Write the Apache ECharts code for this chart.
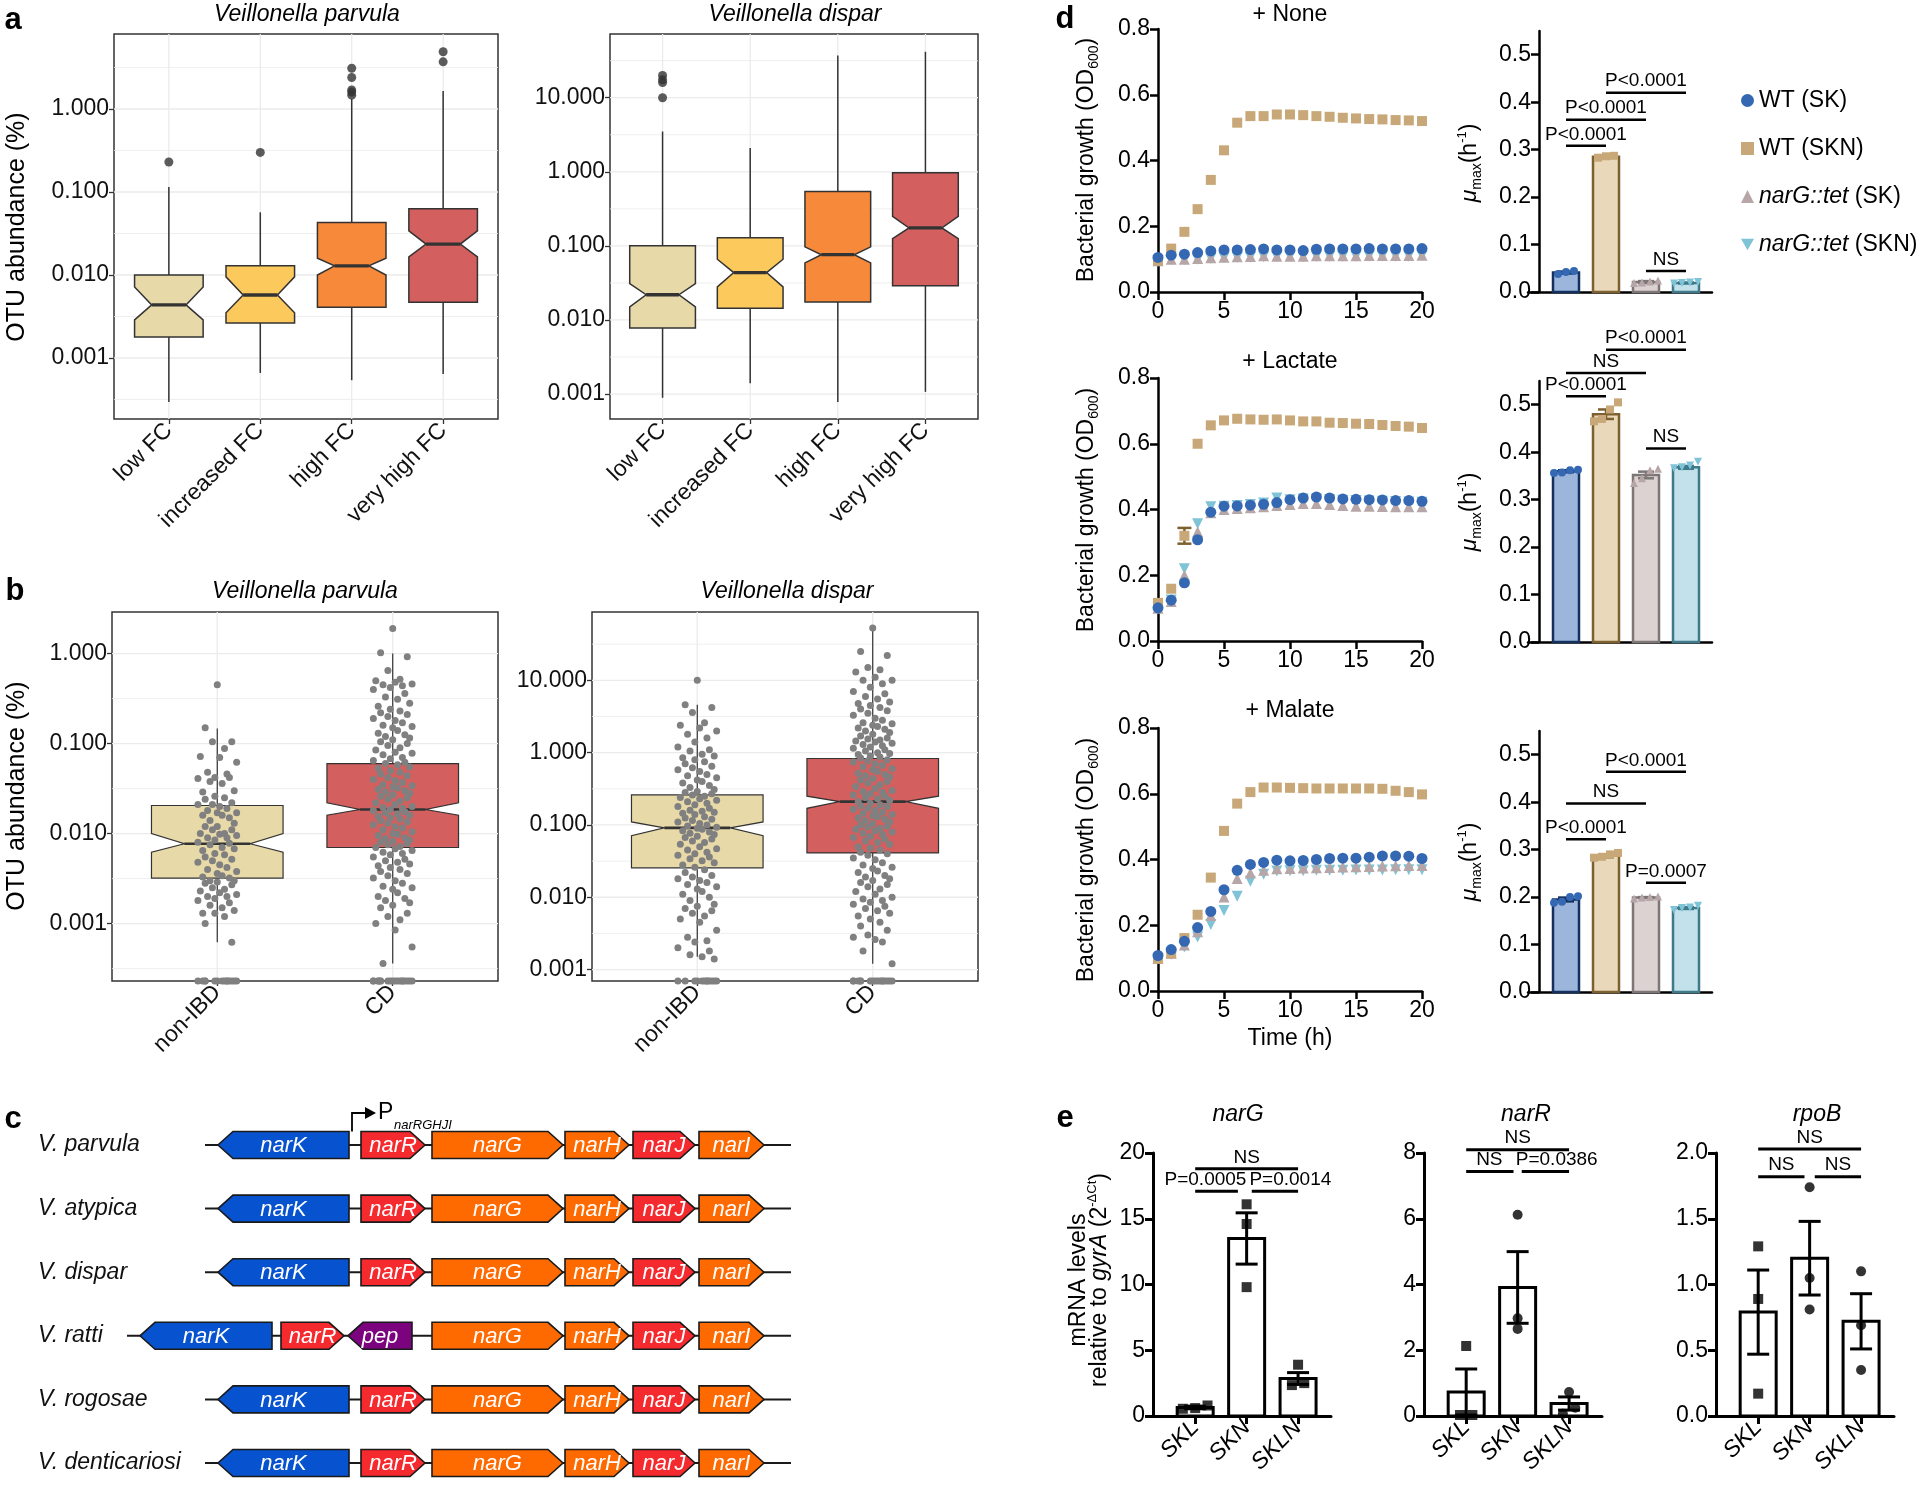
<!DOCTYPE html>
<html>
<head>
<meta charset="utf-8">
<title>Veillonella nar figure</title>
<script src="https://cdn.jsdelivr.net/npm/echarts@6.0.0/dist/echarts.min.js"></script>
<style>
  html, body { margin: 0; padding: 0; background: #fff; }
  #chart { width: 1920px; height: 1486px; }
</style>
</head>
<body>
<div id="chart"></div>
<script>
const FONT = '"Liberation Sans", Arial, Helvetica, sans-serif';

// ---------- a: OTU abundance (%) per FC group ----------
// box = [whiskerLow, q1, notchLow, median, notchHigh, q3, whiskerHigh]
const fcGroups = ['low FC', 'increased FC', 'high FC', 'very high FC'];
const fcColors = ['#E8D9A9', '#FCC95D', '#F7893B', '#D35F5F'];
const parvulaFcBoxes = [
  [0.000295, 0.00179, 0.00288, 0.00436, 0.00716, 0.0100, 0.115],
  [0.00066, 0.00264, 0.0035, 0.00574, 0.0095, 0.0129, 0.057],
  [0.00054, 0.0041, 0.0100, 0.0129, 0.0159, 0.0428, 1.32],
  [0.00064, 0.0047, 0.0165, 0.0236, 0.034, 0.063, 1.65]
];
const parvulaFcOutliers = [[1, 0.23], [2, 0.30], [3, 3.1], [3, 2.4], [3, 1.7], [3, 1.6], [3, 1.47], [4, 4.9], [4, 3.7]];
const disparFcBoxes = [
  [0.00089, 0.0078, 0.015, 0.0219, 0.031, 0.100, 3.5],
  [0.0014, 0.0144, 0.028, 0.0436, 0.066, 0.129, 2.1],
  [0.00078, 0.0175, 0.059, 0.076, 0.097, 0.54, 37],
  [0.00107, 0.029, 0.125, 0.175, 0.25, 0.97, 41.7]
];
const disparFcOutliers = [[1, 20], [1, 17.5], [1, 16], [1, 10]];

// ---------- b: non-IBD vs CD ----------
const ibdGroups = ['non-IBD', 'CD'];
const ibdColors = ['#E8D9A9', '#D35F5F'];
const parvulaIbdBoxes = [
  [0.00062, 0.0032, 0.0062, 0.0077, 0.0100, 0.0205, 0.147],
  [0.00036, 0.0070, 0.016, 0.0185, 0.022, 0.060, 1.0]
];
const disparIbdBoxes = [
  [0.0015, 0.0255, 0.071, 0.091, 0.11, 0.26, 4.6],
  [0.0012, 0.041, 0.17, 0.21, 0.25, 0.83, 53]
];
const parvulaNonIbd = [0.45, 0.15, 0.105, 0.105, 0.088, 0.072, 0.07, 0.062, 0.048, 0.046, 0.042, 0.041, 0.042, 0.038, 0.036,
  0.03, 0.029, 0.026, 0.025, 0.024, 0.022, 0.021, 0.021, 0.02, 0.019, 0.018, 0.017, 0.017, 0.016, 0.016, 0.015, 0.014, 0.013,
  0.012, 0.012, 0.011, 0.011, 0.010, 0.010, 0.0098, 0.0095, 0.009, 0.009, 0.0085, 0.008, 0.0078, 0.0075, 0.007, 0.0068, 0.0065,
  0.006, 0.0058, 0.0055, 0.0052, 0.005, 0.0048, 0.0045, 0.0042, 0.004, 0.0038, 0.0036, 0.0034, 0.0033, 0.0032, 0.003, 0.003,
  0.0029, 0.0028, 0.0027, 0.0025, 0.0024, 0.0023, 0.0022, 0.0021, 0.002, 0.002, 0.0019, 0.0018, 0.0017, 0.0016, 0.0015,
  0.0014, 0.0013, 0.0013, 0.0012, 0.0010, 0.00062];
const parvulaCd = [1.9, 1.02, 0.92, 0.65, 0.52, 0.5, 0.48, 0.46, 0.45, 0.44, 0.42, 0.4, 0.36, 0.33, 0.31,
  0.28, 0.26, 0.24, 0.23, 0.22, 0.21, 0.2, 0.19, 0.18, 0.17, 0.16, 0.155, 0.15, 0.14, 0.13, 0.125, 0.12, 0.115, 0.11, 0.105, 0.1,
  0.095, 0.09, 0.085, 0.08, 0.078, 0.075, 0.07, 0.068, 0.065, 0.062, 0.06, 0.058, 0.055, 0.053, 0.05, 0.048, 0.046, 0.044,
  0.042, 0.04, 0.039, 0.037, 0.035, 0.034, 0.033, 0.032, 0.031, 0.03,
  0.029, 0.028, 0.027, 0.026, 0.025, 0.024, 0.023, 0.022, 0.021, 0.02, 0.0195, 0.019, 0.0185, 0.018, 0.0175, 0.017, 0.0165,
  0.016, 0.0155, 0.015, 0.0145, 0.014, 0.0135, 0.013, 0.0125, 0.012, 0.0115, 0.011, 0.0105, 0.01,
  0.0098, 0.0095, 0.009, 0.0088, 0.0085, 0.0082, 0.008, 0.0078, 0.0075, 0.0072, 0.007, 0.0068, 0.0065, 0.0062, 0.006, 0.0058,
  0.0055, 0.0052, 0.005, 0.0048, 0.0046, 0.0044, 0.0042, 0.004, 0.0038, 0.0036, 0.0034, 0.0032, 0.003,
  0.0028, 0.0026, 0.0025, 0.0024, 0.0022, 0.002, 0.0019, 0.0018, 0.0017, 0.0016, 0.0015, 0.0013, 0.0012, 0.0011, 0.001,
  0.00085, 0.00055, 0.00036];
const disparNonIbd = [10, 4.6, 4.2, 3.6, 2.6, 2.4, 2.2, 2.0, 1.8, 1.6, 1.4, 1.2, 1.1, 1.05,
  0.95, 0.9, 0.85, 0.8, 0.75, 0.7, 0.65, 0.62, 0.58, 0.55, 0.5, 0.48, 0.45, 0.42, 0.4, 0.38, 0.35, 0.33, 0.31,
  0.29, 0.28, 0.27, 0.26, 0.25, 0.24, 0.23, 0.22, 0.21, 0.2, 0.19, 0.18, 0.17, 0.16, 0.155, 0.15, 0.145, 0.14, 0.13, 0.125,
  0.12, 0.115, 0.11, 0.105, 0.1,
  0.097, 0.093, 0.09, 0.087, 0.083, 0.08, 0.077, 0.074, 0.07, 0.067, 0.064, 0.06, 0.057, 0.054, 0.05, 0.047, 0.045, 0.042,
  0.04, 0.038, 0.036, 0.034, 0.032, 0.03,
  0.028, 0.026, 0.024, 0.022, 0.02, 0.019, 0.018, 0.017, 0.016, 0.015, 0.014, 0.013, 0.012, 0.011, 0.01,
  0.009, 0.008, 0.0075, 0.007, 0.0065, 0.006, 0.0055, 0.005, 0.0045, 0.0035, 0.0028, 0.0025, 0.0024, 0.002, 0.0018, 0.0016,
  0.0015, 0.0014];
const disparCd = [53, 25, 22, 15, 14, 13, 11, 10, 10, 9, 8, 7, 6.5, 6, 5.5,
  5.0, 4.8, 4.5, 4.2, 4.0, 3.8, 3.5, 3.3, 3.0, 2.8, 2.6, 2.5, 2.4, 2.3, 2.2, 2.1, 2.0, 1.9, 1.8, 1.7, 1.6, 1.55, 1.5, 1.45,
  1.4, 1.35, 1.3, 1.25, 1.2, 1.15, 1.1, 1.05, 1.0,
  0.97, 0.94, 0.9, 0.87, 0.84, 0.8, 0.77, 0.74, 0.7, 0.67, 0.64, 0.6, 0.58, 0.55, 0.52, 0.5, 0.48, 0.46, 0.44, 0.42, 0.4,
  0.38, 0.36, 0.34, 0.32, 0.3,
  0.29, 0.28, 0.27, 0.26, 0.25, 0.24, 0.23, 0.22, 0.21, 0.2, 0.19, 0.185, 0.18, 0.17, 0.165, 0.16, 0.15, 0.145, 0.14, 0.135,
  0.13, 0.125, 0.12, 0.115, 0.11, 0.105, 0.1,
  0.097, 0.094, 0.09, 0.087, 0.083, 0.08, 0.077, 0.074, 0.07, 0.067, 0.064, 0.06, 0.057, 0.054, 0.05, 0.048, 0.045, 0.042,
  0.04, 0.038, 0.035, 0.033, 0.03,
  0.028, 0.026, 0.025, 0.023, 0.022, 0.02, 0.019, 0.018, 0.017, 0.016, 0.015, 0.014, 0.013, 0.012, 0.011, 0.01,
  0.0095, 0.009, 0.0085, 0.008, 0.0075, 0.007, 0.0065, 0.006, 0.0055, 0.005, 0.0045, 0.004, 0.0035, 0.003, 0.0028, 0.0026,
  0.0024, 0.0018, 0.0012];
const parvulaZeroCounts = [14, 18];
const disparZeroCounts = [12, 16];

// ---------- c: nar loci ----------
const species = ['V. parvula', 'V. atypica', 'V. dispar', 'V. ratti', 'V. rogosae', 'V. denticariosi'];
const locusSpan = [[78, 664], [78, 664], [78, 664], [0, 664], [78, 664], [78, 664]];
// [gene, start, end, strand]
const standardLocus = [['narK', 91, 222, -1], ['narR', 234, 298, 1], ['narG', 305, 436, 1], ['narH', 438, 502, 1], ['narJ', 506, 568, 1], ['narI', 572, 637, 1]];
const rattiLocus = [['narK', 13, 145, -1], ['narR', 154, 217, 1], ['pep', 221, 285, -1], ['narG', 305, 436, 1], ['narH', 438, 502, 1], ['narJ', 506, 568, 1], ['narI', 572, 637, 1]];
const loci = [standardLocus, standardLocus, standardLocus, rattiLocus, standardLocus, standardLocus];
const geneColors = { narK: '#0753CF', narR: '#F52A2E', narG: '#FF6A00', narH: '#FF6A00', narJ: '#F52A2E', narI: '#FF6A00', pep: '#7B037E' };
const promoterPos = 225;

// ---------- d: growth and mu max ----------
const genotypes = ['WT (SK)', 'WT (SKN)', 'narG::tet (SK)', 'narG::tet (SKN)'];
const hours = [0, 1, 2, 3, 4, 5, 6, 7, 8, 9, 10, 11, 12, 13, 14, 15, 16, 17, 18, 19, 20];
const noneGrowth = [
  [0.105, 0.112, 0.115, 0.12, 0.125, 0.128, 0.128, 0.129, 0.131, 0.128, 0.128, 0.126, 0.13, 0.131, 0.131, 0.131, 0.132, 0.131, 0.131, 0.131, 0.132],
  [0.096, 0.132, 0.183, 0.252, 0.341, 0.431, 0.515, 0.535, 0.535, 0.54, 0.54, 0.538, 0.535, 0.533, 0.53, 0.528, 0.526, 0.525, 0.523, 0.522, 0.52],
  [0.095, 0.1, 0.1, 0.102, 0.104, 0.106, 0.107, 0.108, 0.11, 0.109, 0.109, 0.109, 0.11, 0.11, 0.11, 0.11, 0.111, 0.111, 0.111, 0.111, 0.112],
  [0.094, 0.098, 0.099, 0.1, 0.102, 0.104, 0.105, 0.106, 0.107, 0.107, 0.107, 0.107, 0.108, 0.108, 0.108, 0.108, 0.109, 0.109, 0.109, 0.109, 0.11]
];
const lactateGrowth = [
  [0.101, 0.124, 0.177, 0.308, 0.392, 0.41, 0.411, 0.413, 0.416, 0.421, 0.43, 0.435, 0.438, 0.435, 0.432, 0.431, 0.43, 0.429, 0.427, 0.427, 0.425],
  [0.116, 0.159, 0.32, 0.6, 0.656, 0.671, 0.676, 0.674, 0.673, 0.674, 0.671, 0.668, 0.668, 0.664, 0.663, 0.661, 0.66, 0.657, 0.654, 0.652, 0.648],
  [0.1, 0.12, 0.2, 0.332, 0.39, 0.4, 0.403, 0.405, 0.408, 0.412, 0.415, 0.418, 0.418, 0.415, 0.412, 0.41, 0.41, 0.409, 0.408, 0.408, 0.408],
  [0.102, 0.125, 0.22, 0.357, 0.408, 0.41, 0.412, 0.415, 0.42, 0.435, 0.43, 0.432, 0.432, 0.43, 0.428, 0.427, 0.426, 0.425, 0.424, 0.423, 0.422]
];
const lactateSknErr = [0, 0, 0.024, 0, 0, 0, 0, 0, 0, 0, 0, 0, 0, 0, 0, 0, 0, 0, 0, 0, 0];
const malateGrowth = [
  [0.108, 0.126, 0.151, 0.193, 0.242, 0.308, 0.367, 0.385, 0.391, 0.398, 0.396, 0.397, 0.4, 0.403, 0.404, 0.404, 0.407, 0.411, 0.411, 0.41, 0.403],
  [0.098, 0.114, 0.161, 0.232, 0.345, 0.487, 0.57, 0.605, 0.619, 0.619, 0.618, 0.617, 0.616, 0.616, 0.616, 0.616, 0.616, 0.615, 0.609, 0.605, 0.598],
  [0.1, 0.115, 0.14, 0.18, 0.23, 0.286, 0.342, 0.359, 0.367, 0.372, 0.373, 0.374, 0.375, 0.376, 0.377, 0.378, 0.379, 0.38, 0.381, 0.382, 0.382],
  [0.098, 0.112, 0.134, 0.164, 0.202, 0.245, 0.288, 0.334, 0.355, 0.365, 0.366, 0.366, 0.367, 0.367, 0.367, 0.368, 0.368, 0.368, 0.369, 0.369, 0.369]
];
const noneMu = [0.041, 0.285, 0.021, 0.019];
const noneMuSem = [0.002, 0.002, 0.002, 0.001];
const noneMuReps = [[0.044, 0.038, 0.042], [0.287, 0.283, 0.286], [0.024, 0.020, 0.019, 0.022], [0.021, 0.018, 0.019, 0.020]];
const lactateMu = [0.36, 0.48, 0.352, 0.368];
const lactateMuSem = [0.002, 0.01, 0.007, 0.003];
const lactateMuReps = [[0.362, 0.357, 0.363, 0.356], [0.505, 0.47, 0.465, 0.49], [0.362, 0.345, 0.335, 0.365], [0.372, 0.368, 0.366, 0.38]];
const malateMu = [0.195, 0.287, 0.199, 0.177];
const malateMuSem = [0.004, 0.003, 0.001, 0.002];
const malateMuReps = [[0.202, 0.19, 0.188, 0.2], [0.293, 0.285, 0.283, 0.29], [0.2, 0.197, 0.201, 0.199], [0.182, 0.177, 0.173, 0.178]];
// [from, to, height, label]
const noneMuTests = [[0, 1, 0.308, 'P<0.0001'], [0, 2, 0.363, 'P<0.0001'], [1, 3, 0.42, 'P<0.0001'], [2, 3, 0.044, 'NS']];
const lactateMuTests = [[0, 1, 0.518, 'P<0.0001'], [0, 2, 0.567, 'NS'], [1, 3, 0.616, 'P<0.0001'], [2, 3, 0.408, 'NS']];
const malateMuTests = [[0, 1, 0.322, 'P<0.0001'], [0, 2, 0.397, 'NS'], [1, 3, 0.464, 'P<0.0001'], [2, 3, 0.23, 'P=0.0007']];

// ---------- e: mRNA levels relative to gyrA ----------
const strains = ['SKL', 'SKN', 'SKLN'];
const narGMean = [0.65, 13.5, 2.85];
const narGSem = [0.1, 1.95, 0.45];
const narGPts = [[0.8, 0.55, 0.6], [16.1, 14.6, 9.8], [3.9, 2.5, 2.35]];
const narRMean = [0.73, 3.91, 0.38];
const narRSem = [0.7, 1.09, 0.2];
const narRPts = [[2.13, 0.03, 0.03], [6.12, 2.97, 2.65], [0.73, 0.25, 0.07]];
const rpoBMean = [0.79, 1.2, 0.72];
const rpoBSem = [0.32, 0.28, 0.21];
const rpoBPts = [[1.29, 0.89, 0.17], [1.74, 1.05, 0.81], [1.10, 0.69, 0.35]];
const narGSymbols = ['rect', 'rect', 'rect'];
const narRSymbols = ['rect', 'circle', 'circle'];
const rpoBSymbols = ['rect', 'circle', 'circle'];
// [from, to, height, label, labelX]
const narGTests = [[0, 2, 18.8, 'NS', 1], [0, 0.83, 17.1, 'P=0.0005', 0.2], [1.1, 2, 17.1, 'P=0.0014', 1.85]];
const narRTests = [[0, 2, 8.1, 'NS', 1], [0, 0.92, 7.44, 'NS', 0.45], [1.08, 2, 7.44, 'P=0.0386', 1.76]];
const rpoBTests = [[0, 2, 2.03, 'NS', 1], [0, 0.9, 1.82, 'NS', 0.45], [1.1, 2, 1.82, 'NS', 1.55]];

// ---------- styling ----------
const genoColors = ['#3568B2', '#C8A878', '#B7A6A7', '#7FC3D7'];
const genoSymbols = ['circle', 'rect', 'triangle', 'path://M0,0L10,0L5,9Z'];
const barFill = ['#9CB6DB', '#E9D8BA', '#DCD2D2', '#C2E1EA'];
const barStroke = ['#13305F', '#7C602F', '#7C7676', '#3E7A89'];
const jitterPattern = [0, -5, 6, -2, 3, -7, 1, 8, -4, 4, -1, -8, 5, -3, 2, 7, -6, -1, 3, -5, 6, -2, -8, 1, 4, -4, 8, 0, 2, -6, 5, -3, 7];
const jitterStep = 0.0138;
const lg = Math.log10;

const grid = [], xAxis = [], yAxis = [], series = [], graphic = [];
function addPanel(box, xa, ya) {
  const i = grid.length;
  grid.push(Object.assign({ containLabel: false }, box));
  xAxis.push(Object.assign({ gridIndex: i }, xa));
  yAxis.push(Object.assign({ gridIndex: i }, ya));
  return i;
}
function label(text, x, y, opts) {
  graphic.push({ type: 'text', x, y, rotation: (opts && opts.rot) || 0, silent: true,
    style: Object.assign({ text, fontFamily: FONT, fontSize: 23, fill: '#000', align: 'center', verticalAlign: 'middle' }, opts && opts.style) });
}

// ---------- ggplot-like boxplot panels ----------
function boxPanel(box, yRange, decades, groups, boxes, colors, opts) {
  const cats = groups.map((_, i) => i + 1);
  const gi = addPanel(Object.assign({ show: true, borderColor: '#333', borderWidth: 1.5, backgroundColor: '#fff' }, box), {
    type: 'value', min: 0.4, max: groups.length + 0.6,
    axisLine: { show: false, onZero: false },
    axisTick: { show: true, length: 5, customValues: cats, lineStyle: { color: '#333', width: 1.3 } },
    axisLabel: { customValues: cats, formatter: v => groups[Math.round(v) - 1], rotate: 45, fontSize: 23, color: '#111', fontFamily: FONT, margin: 8 },
    splitLine: { show: false }
  }, {
    type: 'value', min: yRange[0], max: yRange[1],
    axisLine: { show: false, onZero: false },
    axisTick: { show: true, length: 5, customValues: decades, lineStyle: { color: '#333', width: 1.3 } },
    axisLabel: { customValues: decades, formatter: v => Math.pow(10, v).toFixed(3), fontSize: 23, color: '#111', fontFamily: FONT, margin: 5 },
    splitLine: { show: false }
  });
  // grid lines: decades, half decades, categories
  const gl = [];
  for (let d = Math.floor(yRange[0]); d <= yRange[1]; d++) {
    if (d >= yRange[0]) gl.push([d, 0, 1]);
    if (d + 0.5 >= yRange[0] && d + 0.5 <= yRange[1]) gl.push([d + 0.5, 0, 0]);
  }
  cats.forEach(c => gl.push([c, 1, 1]));
  series.push({
    type: 'custom', xAxisIndex: gi, yAxisIndex: gi, silent: true, z: 1, data: gl,
    renderItem(params, api) {
      const cs = params.coordSys;
      const v = api.value(0);
      const style = { stroke: '#EBEBEB', lineWidth: api.value(2) ? 1.3 : 0.8 };
      if (api.value(1) === 0) {
        const y = api.coord([1, v])[1];
        return { type: 'line', shape: { x1: cs.x, y1: y, x2: cs.x + cs.width, y2: y }, style };
      }
      const x = api.coord([v, yRange[0]])[0];
      return { type: 'line', shape: { x1: x, y1: cs.y, x2: x, y2: cs.y + cs.height }, style };
    }
  });
  const lw = opts.lineWidth;
  series.push({
    type: 'custom', xAxisIndex: gi, yAxisIndex: gi, silent: true, z: 3,
    data: boxes.map((b, i) => [i + 1].concat(b.map(lg))),
    renderItem(params, api) {
      const cx = api.value(0);
      const x = api.coord([cx, 0])[0];
      const y = k => api.coord([cx, api.value(k)])[1];
      const [wl, q1, nl, md, nh, q3, wh] = [1, 2, 3, 4, 5, 6, 7].map(y);
      const hw = api.size([0.375, 0])[0], nw = hw / 2;
      const stroke = '#333';
      return { type: 'group', children: [
        { type: 'line', shape: { x1: x, y1: q3, x2: x, y2: wh }, style: { stroke, lineWidth: lw } },
        { type: 'line', shape: { x1: x, y1: q1, x2: x, y2: wl }, style: { stroke, lineWidth: lw } },
        { type: 'polygon', shape: { points: [[x - hw, q3], [x + hw, q3], [x + hw, nh], [x + nw, md], [x + hw, nl], [x + hw, q1], [x - hw, q1], [x - hw, nl], [x - nw, md], [x - hw, nh]] },
          style: { fill: colors[params.dataIndex], stroke, lineWidth: lw } },
        { type: 'line', shape: { x1: x - nw, y1: md, x2: x + nw, y2: md }, style: { stroke, lineWidth: lw * 2.2 } }
      ] };
    }
  });
  if (opts.outliers) {
    series.push({ type: 'scatter', xAxisIndex: gi, yAxisIndex: gi, silent: true, z: 4, symbolSize: 9,
      itemStyle: { color: '#333' }, data: opts.outliers.map(o => [o[0], lg(o[1])]) });
  }
  if (opts.points) {
    const data = [];
    opts.points.forEach((vals, g) => {
      vals.forEach((v, i) => data.push([g + 1 + jitterPattern[i % jitterPattern.length] * jitterStep, lg(v)]));
      for (let i = 0; i < opts.zeros[g]; i++) {
        data.push([g + 1 + jitterPattern[(i * 5 + 2) % jitterPattern.length] * jitterStep, yRange[0]]);
      }
    });
    series.push({ type: 'scatter', xAxisIndex: gi, yAxisIndex: gi, silent: true, z: 5, symbolSize: 7, clip: false,
      itemStyle: { color: '#808080', opacity: 1 }, data });
  }
  return gi;
}

boxPanel({ left: 114, top: 34, width: 384, height: 385 }, [-3.735, 0.904], [-3, -2, -1, 0], fcGroups, parvulaFcBoxes, fcColors,
  { lineWidth: 1.5, outliers: parvulaFcOutliers });
boxPanel({ left: 610, top: 34, width: 368, height: 385 }, [-3.337, 1.86], [-3, -2, -1, 0, 1], fcGroups, disparFcBoxes, fcColors,
  { lineWidth: 1.5, outliers: disparFcOutliers });
boxPanel({ left: 112, top: 612, width: 386, height: 369 }, [-3.638, 0.462], [-3, -2, -1, 0], ibdGroups, parvulaIbdBoxes, ibdColors,
  { lineWidth: 1.2, points: [parvulaNonIbd, parvulaCd], zeros: parvulaZeroCounts });
boxPanel({ left: 592, top: 612, width: 386, height: 369 }, [-3.158, 1.945], [-3, -2, -1, 0, 1], ibdGroups, disparIbdBoxes, ibdColors,
  { lineWidth: 1.2, points: [disparNonIbd, disparCd], zeros: disparZeroCounts });

label('Veillonella parvula', 307, 15, { style: { fontStyle: 'italic' } });
label('Veillonella dispar', 795, 15, { style: { fontStyle: 'italic' } });
label('Veillonella parvula', 305, 592, { style: { fontStyle: 'italic' } });
label('Veillonella dispar', 787, 592, { style: { fontStyle: 'italic' } });
label('OTU abundance (%)', 17, 227, { rot: Math.PI / 2, style: { fontSize: 25 } });
label('OTU abundance (%)', 17, 796, { rot: Math.PI / 2, style: { fontSize: 25 } });

// ---------- c: gene maps ----------
const cGrid = addPanel({ left: 127, top: 1145, width: 664, height: 318 }, {
  type: 'value', min: 0, max: 664, show: false
}, {
  type: 'value', min: 0, max: 5, inverse: true,
  axisLine: { show: false, onZero: false }, axisTick: { show: false }, splitLine: { show: false },
  axisLabel: { customValues: [0, 1, 2, 3, 4, 5], formatter: v => species[Math.round(v)], align: 'left', margin: 89,
    fontSize: 23, fontStyle: 'italic', color: '#111', fontFamily: FONT }
});
series.push({
  type: 'custom', xAxisIndex: cGrid, yAxisIndex: cGrid, silent: true, z: 2,
  data: locusSpan.map((s, r) => [s[0], s[1], r]),
  renderItem(params, api) {
    const a = api.coord([api.value(0), api.value(2)]), b = api.coord([api.value(1), api.value(2)]);
    return { type: 'line', shape: { x1: a[0], y1: a[1], x2: b[0], y2: b[1] }, style: { stroke: '#1a1a1a', lineWidth: 2 } };
  }
});
const geneItems = [];
loci.forEach((locus, r) => locus.forEach(g => geneItems.push({ name: g[0], value: [g[1], g[2], g[3], r] })));
series.push({
  type: 'custom', xAxisIndex: cGrid, yAxisIndex: cGrid, silent: true, z: 3,
  data: geneItems.map(g => g.value),
  renderItem(params, api) {
    const s = api.value(0), e = api.value(1), strand = api.value(2), r = api.value(3);
    const p1 = api.coord([s, r]), p2 = api.coord([e, r]);
    const h = 13.5, tip = 15, y = p1[1];
    const pts = strand > 0
      ? [[p1[0], y - h], [p2[0] - tip, y - h], [p2[0], y], [p2[0] - tip, y + h], [p1[0], y + h]]
      : [[p2[0], y - h], [p1[0] + tip, y - h], [p1[0], y], [p1[0] + tip, y + h], [p2[0], y + h]];
    const name = geneItems[params.dataIndex].name;
    return { type: 'group', children: [
      { type: 'polygon', shape: { points: pts }, style: { fill: geneColors[name], stroke: '#1a1a1a', lineWidth: 1.6 } },
      { type: 'text', x: (p1[0] + p2[0]) / 2, y: y + 1, style: { text: name, fill: '#fff', fontSize: 22, fontStyle: 'italic',
        fontFamily: FONT, align: 'center', verticalAlign: 'middle' } }
    ] };
  }
});
series.push({
  type: 'custom', xAxisIndex: cGrid, yAxisIndex: cGrid, silent: true, z: 4, clip: false,
  data: [[promoterPos, 0]],
  renderItem(params, api) {
    const p = api.coord([api.value(0), api.value(1)]);
    const x = p[0], y0 = p[1] - 13.5, y1 = p[1] - 32;
    return { type: 'group', children: [
      { type: 'polyline', shape: { points: [[x, y0], [x, y1], [x + 15, y1]] }, style: { stroke: '#000', lineWidth: 1.8, fill: null } },
      { type: 'polygon', shape: { points: [[x + 13, y1 - 6], [x + 24, y1], [x + 13, y1 + 6]] }, style: { fill: '#000' } },
      { type: 'text', x: x + 26, y: y1, style: { text: 'P', fontSize: 23, fontFamily: FONT, fill: '#000', align: 'left', verticalAlign: 'middle' } },
      { type: 'text', x: x + 42, y: y1 + 12, style: { text: 'narRGHJI', fontSize: 13, fontStyle: 'italic', fontFamily: FONT, fill: '#000', align: 'left', verticalAlign: 'middle' } }
    ] };
  }
});

// ---------- d: growth curves ----------
const blackAxis = { onZero: false, lineStyle: { color: '#000', width: 2.5 } };
const blackTick = { show: true, length: 8, lineStyle: { color: '#000', width: 2.5 } };
const blackLabel = { fontSize: 23, color: '#000', fontFamily: FONT, margin: 8 };
function growthPanel(top, sets, errs) {
  const gi = addPanel({ left: 1158, top, width: 264, height: 263 }, {
    type: 'value', min: 0, max: 20, interval: 5, axisLine: blackAxis, axisTick: blackTick, axisLabel: blackLabel, splitLine: { show: false }
  }, {
    type: 'value', min: 0, max: 0.8, interval: 0.2, axisLine: blackAxis, axisTick: blackTick,
    axisLabel: Object.assign({ formatter: v => v.toFixed(1) }, blackLabel), splitLine: { show: false }
  });
  if (errs) {
    series.push({
      type: 'custom', xAxisIndex: gi, yAxisIndex: gi, silent: true, z: 3,
      data: hours.map((h, i) => [h, sets[1][i], errs[i]]).filter(d => d[2] > 0),
      renderItem(params, api) {
        const x = api.coord([api.value(0), 0])[0];
        const hi = api.coord([0, api.value(1) + api.value(2)])[1], lo = api.coord([0, api.value(1) - api.value(2)])[1];
        const st = { stroke: '#7C602F', lineWidth: 2.5 };
        return { type: 'group', children: [
          { type: 'line', shape: { x1: x, y1: hi, x2: x, y2: lo }, style: st },
          { type: 'line', shape: { x1: x - 7, y1: hi, x2: x + 7, y2: hi }, style: st },
          { type: 'line', shape: { x1: x - 7, y1: lo, x2: x + 7, y2: lo }, style: st }
        ] };
      }
    });
  }
  [3, 2, 1, 0].forEach(k => {
    series.push({ type: 'scatter', name: genotypes[k], xAxisIndex: gi, yAxisIndex: gi, silent: true, z: 4 + (3 - k),
      symbol: genoSymbols[k], symbolSize: k === 1 ? 10 : 11, itemStyle: { color: genoColors[k], opacity: 1 },
      data: hours.map((h, i) => [h, sets[k][i]]) });
  });
}
growthPanel(29, noneGrowth);
growthPanel(378, lactateGrowth, lactateSknErr);
growthPanel(728, malateGrowth);
label('+ None', 1290, 15);
label('+ Lactate', 1290, 362);
label('+ Malate', 1290, 711);
label('Time (h)', 1290, 1039);
const odRich = { a: { fontSize: 23, fontFamily: FONT, fill: '#000' }, s: { fontSize: 14, fontFamily: FONT, fill: '#000', verticalAlign: 'bottom', lineHeight: 28 } };
[160, 510, 860].forEach(cy => label('{a|Bacterial growth (OD}{s|600}{a|)}', 1087, cy, { rot: Math.PI / 2, style: { rich: odRich } }));

// ---------- d: mu max bars ----------
function dodge(vals, tol, step) {
  const order = vals.map((v, i) => i).sort((a, b) => vals[a] - vals[b]);
  const off = new Array(vals.length).fill(0);
  let cluster = [order[0]];
  const flush = () => cluster.forEach((idx, j) => { off[idx] = (j - (cluster.length - 1) / 2) * step; });
  for (let j = 1; j < order.length; j++) {
    if (vals[order[j]] - vals[order[j - 1]] < tol) cluster.push(order[j]);
    else { flush(); cluster = [order[j]]; }
  }
  flush();
  return off;
}
function bracketSeries(gi, tests, lw, fs) {
  return {
    type: 'custom', xAxisIndex: gi, yAxisIndex: gi, silent: true, z: 8, clip: false,
    data: tests.map(t => [t[0], t[1], t[2], t[4] !== undefined ? t[4] : (t[0] + t[1]) / 2]),
    renderItem(params, api) {
      const a = api.coord([api.value(0), api.value(2)]), b = api.coord([api.value(1), api.value(2)]);
      const tx = api.coord([api.value(3), api.value(2)])[0];
      return { type: 'group', children: [
        { type: 'line', shape: { x1: a[0], y1: a[1], x2: b[0], y2: b[1] }, style: { stroke: '#000', lineWidth: lw } },
        { type: 'text', x: tx, y: a[1] - 2, style: { text: tests[params.dataIndex][3], fontSize: fs, fontFamily: FONT, fill: '#000', align: 'center', verticalAlign: 'bottom' } }
      ] };
    }
  };
}
function muPanel(top, mean, sem, reps, tests) {
  const ticks = [0, 0.1, 0.2, 0.3, 0.4, 0.5];
  const gi = addPanel({ left: 1528, top, width: 184, height: 261 }, {
    type: 'value', min: -0.95, max: 3.65, axisLine: blackAxis, axisTick: { show: false }, axisLabel: { show: false }, splitLine: { show: false }
  }, {
    type: 'value', min: 0, max: 0.55, offset: -11, axisLine: blackAxis,
    axisTick: Object.assign({ customValues: ticks }, blackTick),
    axisLabel: Object.assign({ customValues: ticks, formatter: v => v.toFixed(1) }, blackLabel), splitLine: { show: false }
  });
  series.push({
    type: 'custom', xAxisIndex: gi, yAxisIndex: gi, silent: true, z: 3,
    data: mean.map((m, i) => [i, m, sem[i]]),
    renderItem(params, api) {
      const i = params.dataIndex;
      const x = api.coord([api.value(0), 0])[0], y0 = api.coord([0, 0])[1];
      const yt = api.coord([0, api.value(1)])[1];
      const hi = api.coord([0, api.value(1) + api.value(2)])[1], lo = api.coord([0, api.value(1) - api.value(2)])[1];
      const st = { stroke: barStroke[i], lineWidth: 2.5 };
      return { type: 'group', children: [
        { type: 'rect', shape: { x: x - 13, y: yt, width: 26, height: y0 - yt }, style: { fill: barFill[i], stroke: barStroke[i], lineWidth: 2.5 } },
        { type: 'line', shape: { x1: x, y1: hi, x2: x, y2: lo }, style: st },
        { type: 'line', shape: { x1: x - 8, y1: hi, x2: x + 8, y2: hi }, style: st },
        { type: 'line', shape: { x1: x - 8, y1: lo, x2: x + 8, y2: lo }, style: st }
      ] };
    }
  });
  reps.forEach((vals, k) => {
    const off = dodge(vals, 0.03, 0.2);
    series.push({ type: 'scatter', xAxisIndex: gi, yAxisIndex: gi, silent: true, z: 5, symbol: genoSymbols[k], symbolSize: 8,
      itemStyle: { color: genoColors[k], opacity: 1 }, data: vals.map((v, j) => [k + off[j], v]) });
  });
  series.push(bracketSeries(gi, tests, 2.5, 19));
}
muPanel(31, noneMu, noneMuSem, noneMuReps, noneMuTests);
muPanel(381, lactateMu, lactateMuSem, lactateMuReps, lactateMuTests);
muPanel(731, malateMu, malateMuSem, malateMuReps, malateMuTests);
const muRich = {
  m: { fontSize: 23, fontStyle: 'italic', fontFamily: FONT, fill: '#000' },
  s: { fontSize: 14, fontFamily: FONT, fill: '#000', verticalAlign: 'bottom', lineHeight: 28 },
  n: { fontSize: 23, fontFamily: FONT, fill: '#000' },
  p: { fontSize: 13, fontFamily: FONT, fill: '#000', verticalAlign: 'top', lineHeight: 28 }
};
[163, 512, 862].forEach(cy => label('{m|μ}{s|max}{n|(h}{p|-1}{n|)}', 1470, cy, { rot: Math.PI / 2, style: { rich: muRich } }));

// ---------- e: qPCR bars ----------
function qpcrPanel(left, yMax, yInt, mean, sem, pts, symbols, tests, digits) {
  const cats = [0, 1, 2];
  const gi = addPanel({ left, top: 1153, width: 178, height: 263 }, {
    type: 'value', min: -0.82, max: 2.64,
    axisLine: { onZero: false, lineStyle: { color: '#000', width: 3 } },
    axisTick: { show: true, length: 8, customValues: cats, lineStyle: { color: '#000', width: 3 } },
    axisLabel: { customValues: cats, formatter: v => strains[Math.round(v)], rotate: 45, fontSize: 23, fontStyle: 'italic', color: '#000', fontFamily: FONT, margin: 8 },
    splitLine: { show: false }
  }, {
    type: 'value', min: 0, max: yMax, interval: yInt,
    axisLine: { onZero: false, lineStyle: { color: '#000', width: 3 } },
    axisTick: { show: true, length: 8, lineStyle: { color: '#000', width: 3 } },
    axisLabel: Object.assign({ formatter: v => v.toFixed(digits) }, blackLabel), splitLine: { show: false }
  });
  series.push({
    type: 'custom', xAxisIndex: gi, yAxisIndex: gi, silent: true, z: 3,
    data: mean.map((m, i) => [i, m, sem[i]]),
    renderItem(params, api) {
      const x = api.coord([api.value(0), 0])[0], y0 = api.coord([0, 0])[1];
      const yt = api.coord([0, api.value(1)])[1];
      const hi = api.coord([0, api.value(1) + api.value(2)])[1], lo = api.coord([0, Math.max(0, api.value(1) - api.value(2))])[1];
      const st = { stroke: '#000', lineWidth: 3 };
      return { type: 'group', children: [
        { type: 'rect', shape: { x: x - 18, y: yt, width: 36, height: y0 - yt }, style: { fill: '#fff', stroke: '#000', lineWidth: 3 } },
        { type: 'line', shape: { x1: x, y1: hi, x2: x, y2: lo }, style: st },
        { type: 'line', shape: { x1: x - 11, y1: hi, x2: x + 11, y2: hi }, style: st },
        { type: 'line', shape: { x1: x - 11, y1: lo, x2: x + 11, y2: lo }, style: st }
      ] };
    }
  });
  const data = [];
  pts.forEach((vals, k) => {
    const off = dodge(vals, yMax * 0.035, 0.24);
    vals.forEach((v, j) => data.push({ value: [k + off[j], v], symbol: symbols[k] }));
  });
  series.push({ type: 'scatter', xAxisIndex: gi, yAxisIndex: gi, silent: true, z: 5, symbolSize: 10, clip: false,
    itemStyle: { color: '#000' }, data });
  series.push(bracketSeries(gi, tests, 3, 19));
}
qpcrPanel(1153, 20, 5, narGMean, narGSem, narGPts, narGSymbols, narGTests, 0);
qpcrPanel(1424, 8, 2, narRMean, narRSem, narRPts, narRSymbols, narRTests, 0);
qpcrPanel(1716, 2, 0.5, rpoBMean, rpoBSem, rpoBPts, rpoBSymbols, rpoBTests, 1);
label('narG', 1238, 1115, { style: { fontStyle: 'italic' } });
label('narR', 1526, 1115, { style: { fontStyle: 'italic' } });
label('rpoB', 1817, 1115, { style: { fontStyle: 'italic' } });
label('mRNA levels', 1079, 1280, { rot: Math.PI / 2 });
label('{n|relative to }{i|gyrA}{n| (2}{p|-ΔCt}{n|)}', 1100, 1280, { rot: Math.PI / 2, style: { rich: {
  n: { fontSize: 23, fontFamily: FONT, fill: '#000' },
  i: { fontSize: 23, fontStyle: 'italic', fontFamily: FONT, fill: '#000' },
  p: { fontSize: 13, fontFamily: FONT, fill: '#000', verticalAlign: 'top', lineHeight: 28 }
} } });

// panel letters
[['a', 13, 20], ['b', 15, 591], ['c', 13, 1119], ['d', 1065, 19], ['e', 1065, 1118]].forEach(p =>
  label(p[0], p[1], p[2], { style: { fontSize: 31, fontWeight: 'bold' } }));

const chart = echarts.init(document.getElementById('chart'), null, { renderer: 'canvas' });
chart.setOption({
  animation: false,
  backgroundColor: '#fff',
  textStyle: { fontFamily: FONT },
  grid, xAxis, yAxis, series, graphic,
  legend: {
    orient: 'vertical', left: 1736, top: 84, itemWidth: 13, itemHeight: 13, itemGap: 25, selectedMode: false,
    data: genotypes.map((n, k) => ({ name: n, icon: genoSymbols[k], itemStyle: { color: genoColors[k] } })),
    formatter: n => n.indexOf('narG') === 0 ? '{i|narG::tet} {n|' + n.slice(10) + '}' : '{n|' + n + '}',
    textStyle: { fontSize: 23, color: '#000', fontFamily: FONT,
      rich: { i: { fontSize: 23, fontStyle: 'italic', fontFamily: FONT }, n: { fontSize: 23, fontFamily: FONT } } }
  }
});
</script>
</body>
</html>
